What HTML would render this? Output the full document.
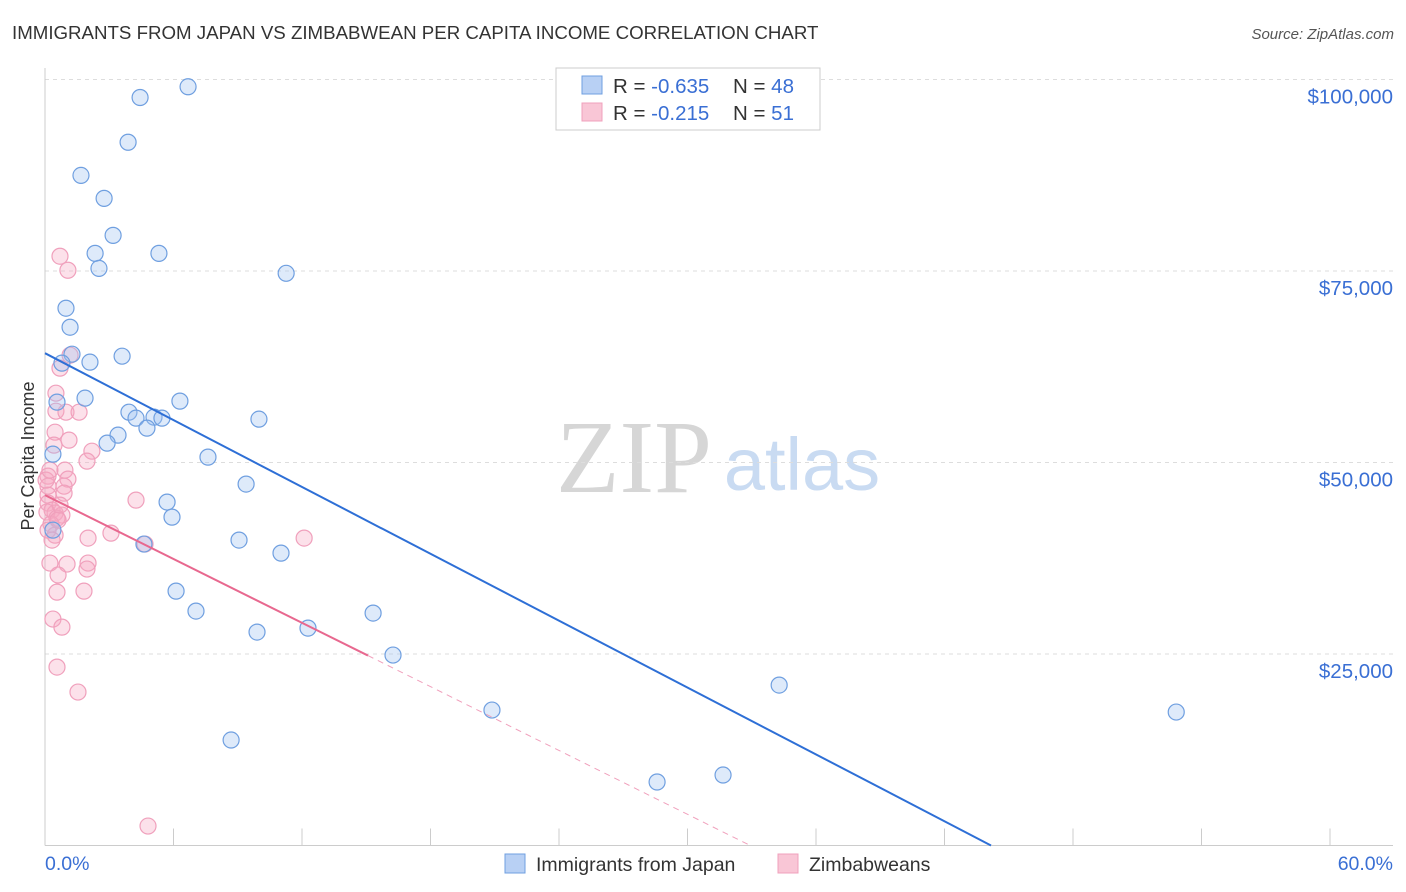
<!DOCTYPE html>
<html><head><meta charset="utf-8"><style>
body{margin:0;background:#fff;font-family:"Liberation Sans",sans-serif;}
#c{position:relative;width:1406px;height:892px;overflow:hidden;}
</style></head><body>
<div id="c">
<svg id="s" width="1406" height="892" xmlns="http://www.w3.org/2000/svg">
<text x="12" y="39" font-size="18.7" fill="#333">IMMIGRANTS FROM JAPAN VS ZIMBABWEAN PER CAPITA INCOME CORRELATION CHART</text>
<text x="1394" y="39" font-size="15" fill="#555" text-anchor="end" font-style="italic">Source: ZipAtlas.com</text>
<text x="634" y="492" font-size="104" fill="#d6d6d6" text-anchor="middle" font-family="Liberation Serif">ZIP</text>
<text x="802" y="490" font-size="74" fill="#c9dbf2" text-anchor="middle">atlas</text>
<text transform="translate(34,456) rotate(-90)" font-size="18" fill="#333" text-anchor="middle">Per Capita Income</text>
<g id="grid"></g><g id="axes"></g><g id="pts"></g><g id="lines"></g>
<g>
<rect x="556" y="68" width="264" height="62" fill="#fff" stroke="#ccc"/>
<rect x="582" y="76" width="20" height="18" fill="#b8d0f4" stroke="#6f9fe0"/>
<rect x="582" y="103" width="20" height="18" fill="#f9c6d6" stroke="#f0a0bc"/>
<text x="613" y="93" font-size="20.5" fill="#333">R = <tspan fill="#3a6fd4">-0.635</tspan><tspan x="733">N = </tspan><tspan fill="#3a6fd4">48</tspan></text>
<text x="613" y="120" font-size="20.5" fill="#333">R = <tspan fill="#3a6fd4"> -0.215</tspan><tspan x="733">N = </tspan><tspan fill="#3a6fd4"> 51</tspan></text>
</g>
<g>
<rect x="505" y="854" width="20" height="19" fill="#b8d0f4" stroke="#6f9fe0"/>
<text x="536" y="871" font-size="19.5" fill="#333">Immigrants from Japan</text>
<rect x="778" y="854" width="20" height="19" fill="#f9c6d6" stroke="#f0a0bc"/>
<text x="809" y="871" font-size="19.5" fill="#333">Zimbabweans</text>
</g>
</svg></div>
<script>
const yTicks=[25000,50000,75000,100000];
const yTickLabels=["$25,000","$50,000","$75,000","$100,000"];
const xTickLabels=["0.0%","60.0%"];
const japanX=[6.68,4.44,3.88,1.68,2.76,3.18,2.34,5.32,2.52,11.26,0.98,1.17,1.26,3.60,0.79,2.10,1.87,0.56,6.30,3.92,4.25,5.09,5.46,4.76,9.99,3.41,2.90,0.37,7.61,9.39,5.70,5.93,0.37,9.06,4.62,11.02,6.12,7.05,15.32,9.90,12.28,16.25,20.87,34.28,52.82,8.69,31.66,28.58];
const japanY=[99050,97650,91810,87480,84480,79650,77300,77300,75340,74700,70140,67660,64140,63880,62970,63100,58400,57880,58010,56570,55790,55920,55790,54490,55660,53570,52530,51090,50700,47180,44830,42870,41170,39870,39350,38170,33210,30600,30340,27860,28380,24860,17680,20940,17420,13770,9200,8290];
const zimX=[0.70,1.07,1.17,0.70,0.51,0.51,0.98,1.59,0.47,1.12,2.19,0.42,1.96,0.93,0.14,1.07,0.14,0.89,0.89,0.14,0.14,0.33,0.47,0.79,0.09,0.56,0.28,4.25,3.08,0.47,2.01,12.10,4.67,0.23,2.01,1.03,1.96,0.61,1.82,0.56,0.37,0.79,0.56,1.54,4.81,0.14,0.33,0.61,0.05,0.70,0.23];
const zimY=[76930,75100,64010,62320,59050,56700,56570,56570,53960,52920,51480,52270,50180,49000,48220,47830,46910,46910,46000,45740,44700,43790,43400,43140,43530,42740,41960,45090,40780,40520,40130,40130,39350,36870,36870,36740,36090,35310,33210,33080,29560,28510,23290,20030,2540,41170,39870,42480,47700,44440,49000];
const japanTrend=[64270,-1455];
const zimTrend=[45740,-1389,15.08];
const NS="http://www.w3.org/2000/svg";
const X0=45,X1=1330,Y0=845.5,Y1=79.5;
const sx=v=>X0+v/60*(X1-X0);
const sy=v=>Y0-v/100000*(Y0-Y1);
function mk(t,a,p){const e=document.createElementNS(NS,t);for(const k in a)e.setAttribute(k,a[k]);document.getElementById(p).appendChild(e);return e;}
yTicks.forEach((v,i)=>{
 const l=mk('line',{x1:X0,x2:1393,y1:sy(v),y2:sy(v),stroke:'#ddd','stroke-dasharray':'4,4'},'grid');
 
 
 const t=mk('text',{x:1393,y:sy(v)+24,'font-size':20.5,fill:'#3a6fd4','text-anchor':'end'},'grid');
 t.textContent=yTickLabels[i];
 
 
});
const ax=mk('line',{x1:X0,x2:1393,y1:Y0,y2:Y0,stroke:'#ccc'},'axes');


const ay=mk('line',{x1:X0,x2:X0,y1:68,y2:Y0,stroke:'#ccc'},'axes');


for(let i=0;i<=10;i++){
 const t=mk('line',{x1:sx(i*6),x2:sx(i*6),y1:Y0,y2:Y0-17,stroke:'#ccc'},'axes');
 
 
}
[[0,'start',X0],[60,'end',1393]].forEach((d,i)=>{
 const t=mk('text',{x:d[2],y:870,'font-size':19.5,fill:'#3a6fd4','text-anchor':d[1]},'axes');
 t.textContent=xTickLabels[i];
 
 
});
zimX.forEach((x,i)=>{
 const c=mk('circle',{cx:sx(x),cy:sy(zimY[i]),r:8,fill:'rgba(245,170,195,0.35)',stroke:'#f0a0bc','stroke-width':1.2},'pts');
 
 
});
japanX.forEach((x,i)=>{
 const c=mk('circle',{cx:sx(x),cy:sy(japanY[i]),r:8,fill:'rgba(160,195,240,0.35)',stroke:'#6f9fe0','stroke-width':1.2},'pts');
 
 
});
const jEnd=-japanTrend[0]/japanTrend[1];
const jl=mk('line',{x1:sx(0),y1:sy(japanTrend[0]),x2:sx(jEnd),y2:sy(0),stroke:'#2e6fd6','stroke-width':2},'lines');


const zEnd=-zimTrend[0]/zimTrend[1];
const zs=mk('line',{x1:sx(0),y1:sy(zimTrend[0]),x2:sx(zimTrend[2]),y2:sy(zimTrend[0]+zimTrend[1]*zimTrend[2]),stroke:'#e8688f','stroke-width':2},'lines');


const zd=mk('line',{x1:sx(zimTrend[2]),y1:sy(zimTrend[0]+zimTrend[1]*zimTrend[2]),x2:sx(zEnd),y2:sy(0),stroke:'#f0a0bc','stroke-width':1,'stroke-dasharray':'6,5'},'lines');


</script>
</body></html>
